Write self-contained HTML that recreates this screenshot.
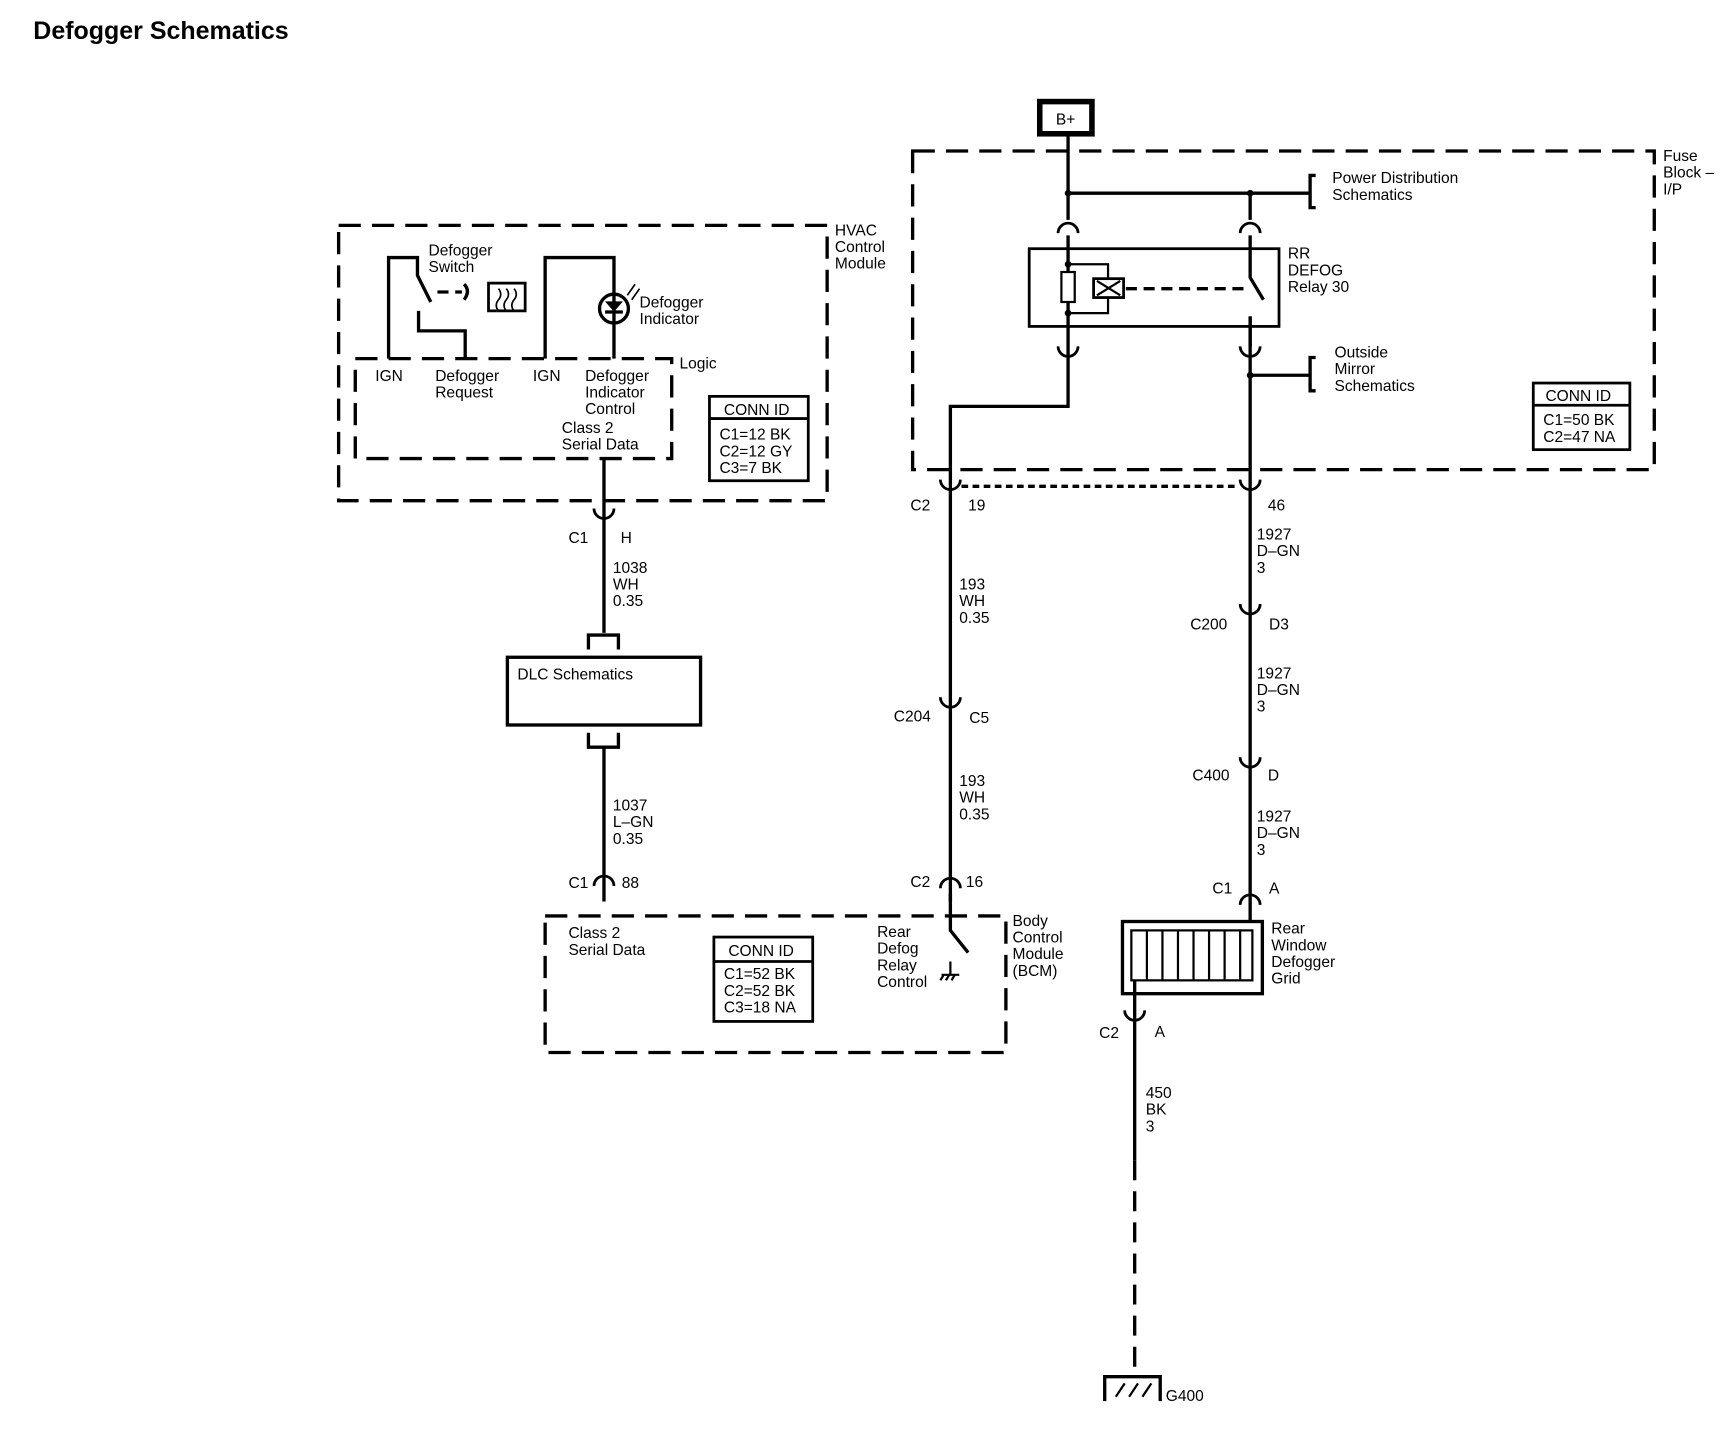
<!DOCTYPE html>
<html><head><meta charset="utf-8"><style>
html,body{margin:0;padding:0;background:#fff;}
svg{display:block;}
text{font-family:"Liberation Sans",sans-serif;font-size:14px;fill:#000;}
.b{font-weight:bold;}
</style></head><body>
<svg width="1732" height="1440" viewBox="0 0 1560 1297" preserveAspectRatio="none" xmlns="http://www.w3.org/2000/svg">
<rect x="0" y="0" width="1560" height="1297" fill="#fff"/>
<text x="30" y="35" class="b" style="font-size:22.5px">Defogger Schematics</text>

<g fill="none" stroke="#000" stroke-width="3">
<rect x="305" y="203" width="440" height="248" stroke-dasharray="20,10"/>
<path d="M320 323 H605 V413 H320 Z" stroke-dasharray="20,10"/>
<path d="M350 323 V232 H376 V248 L388 272"/>
<path d="M377 280 V298 H419 V323"/>
<path d="M394 263 H404 M410 263 H416" />
<path d="M418 256 Q424 262 418 270" />
<rect x="440" y="255" width="33" height="25" stroke-width="2.5"/>
<path d="M449 260 q4 5 0 10 q-4 5 0 10 M456 260 q4 5 0 10 q-4 5 0 10 M463 260 q4 5 0 10 q-4 5 0 10" stroke-width="1.5"/>
<path d="M491 323 V232 H553 V323"/>
<circle cx="553" cy="278" r="13" fill="#fff"/>
<path d="M553 265 V291 M545 281 H561" />
<path d="M546 272 H560 L553 280 Z" fill="#000" stroke-width="1"/>
<path d="M565 266 L572 256 M569 270 L576 260" stroke-width="1.5"/>
<rect x="639" y="357" width="89" height="76" stroke-width="2.5"/>
<path d="M639 377 H728" stroke-width="2.5"/>
<path d="M544 413 V570"/>
<path d="M535 458 A9 9 0 0 0 553 458" stroke-width="2.5"/>
<path d="M530 585 V572 H557 V585"/>
<rect x="457" y="592" width="174" height="61"/>
<path d="M530 660 V673 H557 V660"/>
<path d="M544 673 V812"/>
<path d="M535 798 A9 9 0 0 1 553 798" stroke-width="2.5"/>
<rect x="491" y="825" width="415" height="123" stroke-dasharray="20,10"/>
<rect x="643" y="844" width="89" height="76" stroke-width="2.5"/>
<path d="M643 866 H732" stroke-width="2.5"/>
<path d="M856 805 V838 L872 858"/>
<path d="M856 866 V878 M848 878 H864 M850 878 l-3 5 M855 878 l-3 5 M860 878 l-3 5" stroke-width="2"/>
<path d="M962 318 V366 H856 V812"/>
<path d="M847 432 A9 9 0 0 0 865 432" stroke-width="2.5"/>
<path d="M847 628 A9 9 0 0 0 865 628" stroke-width="2.5"/>
<path d="M847 800 A9 9 0 0 1 865 800" stroke-width="2.5"/>
<path d="M866 438 H1116" stroke-dasharray="6,4"/>
<path d="M1126 285 V830"/>
<path d="M1117 432 A9 9 0 0 0 1135 432" stroke-width="2.5"/>
<path d="M1117 544 A9 9 0 0 0 1135 544" stroke-width="2.5"/>
<path d="M1117 682 A9 9 0 0 0 1135 682" stroke-width="2.5"/>
<path d="M1117 815 A9 9 0 0 1 1135 815" stroke-width="2.5"/>
<rect x="1011" y="830" width="126" height="65"/>
<rect x="1019" y="838" width="109" height="45" stroke-width="2"/>
<path d="M1033 838 V883 M1047 838 V883 M1061 838 V883 M1075 838 V883 M1089 838 V883 M1103 838 V883 M1117 838 V883" stroke-width="2"/>
<path d="M1022 883 V1045"/>
<path d="M1013 910 A9 9 0 0 0 1031 910" stroke-width="2.5"/>
<path d="M1022 1045 V1238" stroke-dasharray="18,10"/>
<path d="M995 1262 V1240 H1045 V1262"/>
<path d="M1005 1258 l8 -12 M1017 1258 l8 -12 M1029 1258 l8 -12" stroke-width="2"/>
<rect x="822" y="136" width="668" height="287" stroke-dasharray="20,10"/>
<rect x="936.5" y="91.5" width="47" height="29" stroke-width="5"/>
<path d="M962 122 V198 M962 174 H1180 M1126 174 V198"/>
<path d="M1185 158 H1180 V187 H1185"/>
<path d="M953 210 A9 9 0 0 1 971 210 M1117 210 A9 9 0 0 1 1135 210" stroke-width="2.5"/>
<path d="M962 212 V318 M1126 212 V250 L1138 270 M1126 285 V312"/>
<rect x="927" y="224" width="225" height="70" stroke-width="2.5"/>
<rect x="956" y="245" width="12" height="27" stroke-width="2" fill="#fff"/>
<path d="M962 238 H998 V282 H962" stroke-width="2"/>
<rect x="985" y="251" width="27" height="17" stroke-width="2.5" fill="#fff"/>
<path d="M988 253 L1009 266 M1009 253 L988 266" stroke-width="2"/>
<path d="M1014 260 H1125" stroke-dasharray="10,6"/>
<path d="M953 312 A9 9 0 0 0 971 312 M1117 312 A9 9 0 0 0 1135 312" stroke-width="2.5"/>
<path d="M1126 338 H1180 M1185 322 H1180 V352 H1185"/>
<rect x="1381" y="345" width="87" height="60" stroke-width="2.5"/>
<path d="M1381 365 H1468" stroke-width="2.5"/>
</g>
<g fill="#000">
<circle cx="962" cy="174" r="3"/><circle cx="1126" cy="174" r="3"/>
<circle cx="962" cy="238" r="3"/><circle cx="962" cy="282" r="3"/>
<circle cx="1126" cy="338" r="3"/>
</g>

<text x="752" y="212">HVAC</text><text x="752" y="227">Control</text><text x="752" y="242">Module</text>
<text x="612" y="332">Logic</text>
<text x="386" y="230">Defogger</text><text x="386" y="245">Switch</text>
<text x="576" y="277">Defogger</text><text x="576" y="292">Indicator</text>
<text x="338" y="343">IGN</text>
<text x="392" y="343">Defogger</text><text x="392" y="358">Request</text>
<text x="480" y="343">IGN</text>
<text x="527" y="343">Defogger</text><text x="527" y="358">Indicator</text><text x="527" y="373">Control</text>
<text x="506" y="390">Class 2</text><text x="506" y="405">Serial Data</text>
<text x="652" y="374">CONN ID</text>
<text x="648" y="396">C1=12 BK</text><text x="648" y="411">C2=12 GY</text><text x="648" y="426">C3=7 BK</text>
<text x="512" y="489">C1</text><text x="559" y="489">H</text>
<text x="552" y="516">1038</text><text x="552" y="531">WH</text><text x="552" y="546">0.35</text>
<text x="466" y="612">DLC Schematics</text>
<text x="552" y="730">1037</text><text x="552" y="745">L–GN</text><text x="552" y="760">0.35</text>
<text x="512" y="800">C1</text><text x="560" y="800">88</text>
<text x="512" y="845">Class 2</text><text x="512" y="860">Serial Data</text>
<text x="656" y="861">CONN ID</text>
<text x="652" y="882">C1=52 BK</text><text x="652" y="897">C2=52 BK</text><text x="652" y="912">C3=18 NA</text>
<text x="790" y="844">Rear</text><text x="790" y="859">Defog</text><text x="790" y="874">Relay</text><text x="790" y="889">Control</text>
<text x="912" y="834">Body</text><text x="912" y="849">Control</text><text x="912" y="864">Module</text><text x="912" y="879">(BCM)</text>
<text x="820" y="460">C2</text><text x="872" y="460">19</text>
<text x="864" y="531">193</text><text x="864" y="546">WH</text><text x="864" y="561">0.35</text>
<text x="805" y="650">C204</text><text x="873" y="651">C5</text>
<text x="864" y="708">193</text><text x="864" y="723">WH</text><text x="864" y="738">0.35</text>
<text x="820" y="799">C2</text><text x="870" y="799">16</text>
<text x="1142" y="460">46</text>
<text x="1132" y="486">1927</text><text x="1132" y="501">D–GN</text><text x="1132" y="516">3</text>
<text x="1072" y="567">C200</text><text x="1143" y="567">D3</text>
<text x="1132" y="611">1927</text><text x="1132" y="626">D–GN</text><text x="1132" y="641">3</text>
<text x="1074" y="703">C400</text><text x="1142" y="703">D</text>
<text x="1132" y="740">1927</text><text x="1132" y="755">D–GN</text><text x="1132" y="770">3</text>
<text x="1092" y="805">C1</text><text x="1143" y="805">A</text>
<text x="1145" y="841">Rear</text><text x="1145" y="856">Window</text><text x="1145" y="871">Defogger</text><text x="1145" y="886">Grid</text>
<text x="990" y="935">C2</text><text x="1040" y="934">A</text>
<text x="1032" y="989">450</text><text x="1032" y="1004">BK</text><text x="1032" y="1019">3</text>
<text x="1050" y="1262">G400</text>
<text x="951" y="112">B+</text>
<text x="1498" y="145">Fuse</text><text x="1498" y="160">Block –</text><text x="1498" y="175">I/P</text>
<text x="1200" y="165">Power Distribution</text><text x="1200" y="180">Schematics</text>
<text x="1160" y="233">RR</text><text x="1160" y="248">DEFOG</text><text x="1160" y="263">Relay 30</text>
<text x="1202" y="322">Outside</text><text x="1202" y="337">Mirror</text><text x="1202" y="352">Schematics</text>
<text x="1392" y="361">CONN ID</text>
<text x="1390" y="383">C1=50 BK</text><text x="1390" y="398">C2=47 NA</text>
</svg>
</body></html>
